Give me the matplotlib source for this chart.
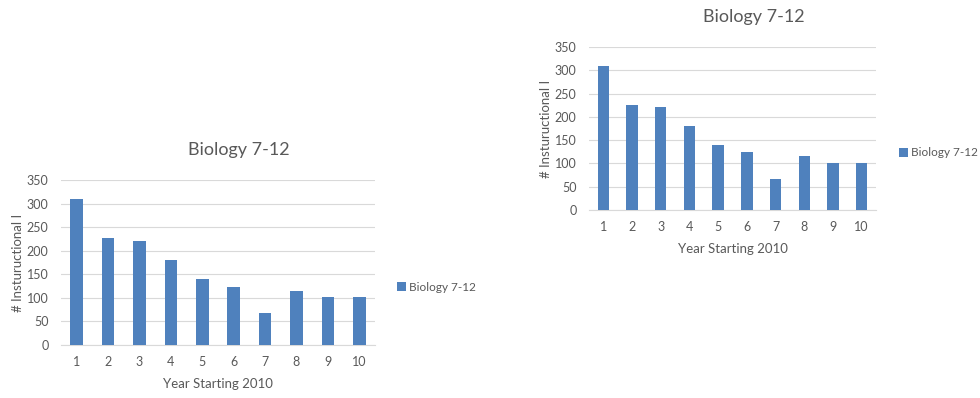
import matplotlib
matplotlib.use("Agg")
import matplotlib.pyplot as plt

plt.rcParams['font.family'] = ['Lato', 'DejaVu Sans']

# Biology 7-12 instructional counts by year
years = ["1", "2", "3", "4", "5", "6", "7", "8", "9", "10"]
counts = [309, 226, 221, 180, 140, 124, 67, 115, 101, 101]
y_ticks = [0, 50, 100, 150, 200, 250, 300, 350]

title = "Biology 7-12"
series_name = "Biology 7-12"
x_label = "Year Starting 2010"
y_label = "# Instuructional I"

bar_color = "#4F81BD"
text_color = "#595959"
grid_color = "#D9D9D9"


def draw_chart(ax, legend_x, title_x):
    xs = list(range(len(years)))
    ax.bar(xs, counts, width=0.4, color=bar_color, label=series_name, zorder=3)
    ax.set_xlim(-0.5, len(years) - 0.5)
    ax.set_ylim(0, 350)
    ax.set_yticks(y_ticks)
    ax.set_xticks(xs)
    ax.set_xticklabels(years)
    ax.grid(axis="y", color=grid_color, linewidth=0.8, zorder=0)
    for side in ["top", "right", "left"]:
        ax.spines[side].set_visible(False)
    ax.spines["bottom"].set_color(grid_color)
    ax.spines["bottom"].set_linewidth(0.8)
    ax.tick_params(axis="both", length=0, colors=text_color, labelsize=9)
    ax.tick_params(axis="y", pad=9)
    ax.tick_params(axis="x", pad=8)
    # the chart title sits over the whole chart, legend included
    ax.set_title(title, color=text_color, fontsize=13, pad=18, x=title_x)
    ax.set_xlabel(x_label, color=text_color, fontsize=9.5, labelpad=7)
    ax.set_ylabel(y_label, color=text_color, fontsize=9.5, labelpad=2)
    ax.legend(loc="center left", bbox_to_anchor=(legend_x, 0.35), frameon=False,
              fontsize=8.5, handlelength=0.75, handleheight=0.75, handletextpad=0.3,
              borderaxespad=0, borderpad=0, labelcolor=text_color)


fig = plt.figure(figsize=(9.8, 3.98), dpi=100)

ax_left = fig.add_axes([0.0622, 0.1332, 0.3204, 0.4146])
draw_chart(ax_left, 1.07, 0.565)

ax_right = fig.add_axes([0.601, 0.4724, 0.2929, 0.4095])
draw_chart(ax_right, 1.08, 0.575)

fig.savefig("out.png", dpi=100, facecolor="white")
